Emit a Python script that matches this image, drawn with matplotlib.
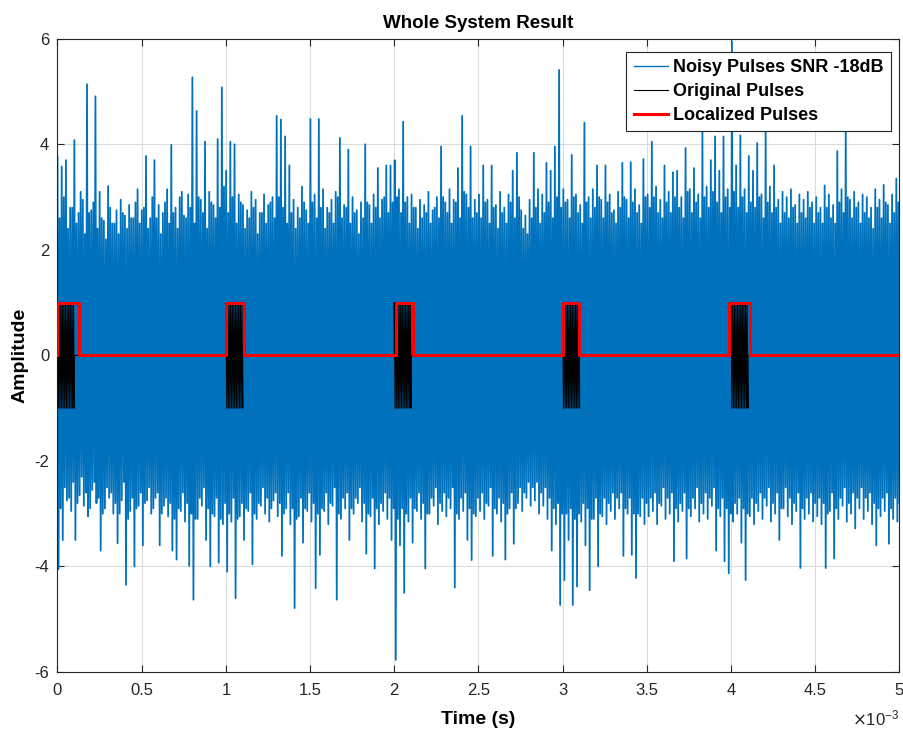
import numpy as np
import matplotlib
matplotlib.use("Agg")
import matplotlib.pyplot as plt
from matplotlib.lines import Line2D
from matplotlib.ticker import FuncFormatter

plt.rcParams["font.family"] = ["Liberation Sans", "DejaVu Sans"]
plt.rcParams["axes.unicode_minus"] = False

# Noisy received signal, 25 us bins over 0 .. 5 ms.
# noise_hi / noise_lo: largest excursions in each bin (the visible spikes)
noise_hi = [
    3.77, 3.58, 3.70, 2.80, 4.08, 2.70, 2.95, 5.14, 2.75, 4.91, 3.10, 2.55, 3.21, 2.50, 2.75, 2.95, 2.65, 2.85, 2.60, 3.15,
    2.75, 3.78, 2.60, 3.70, 2.85, 2.70, 3.15, 3.99, 2.80, 3.00, 2.65, 3.05, 5.27, 4.63, 2.95, 4.05, 3.10, 2.85, 4.10, 5.08,
    3.50, 4.05, 4.00, 3.05, 2.85, 2.75, 3.10, 2.95, 2.70, 3.05, 2.85, 3.00, 4.54, 4.47, 4.15, 3.60, 2.95, 2.80, 3.20, 2.75,
    4.48, 3.05, 4.48, 3.15, 2.80, 2.95, 3.10, 4.12, 2.85, 3.90, 3.00, 2.75, 2.90, 4.00, 2.85, 3.05, 3.55, 2.95, 3.60, 3.60,
    3.70, 3.15, 4.43, 3.00, 3.05, 2.80, 2.95, 2.85, 3.10, 2.75, 3.00, 3.96, 2.90, 3.15, 2.95, 3.55, 4.54, 3.05, 3.96, 2.95,
    3.05, 3.60, 2.95, 3.60, 2.85, 3.10, 2.80, 3.05, 3.50, 3.84, 2.75, 2.65, 2.95, 3.84, 3.15, 3.05, 3.65, 3.50, 3.96, 5.41,
    3.15, 2.95, 3.80, 3.05, 2.85, 4.41, 3.00, 3.15, 3.60, 2.95, 3.60, 3.05, 2.75, 3.10, 3.65, 2.95, 3.66, 3.15, 2.85, 3.72,
    3.05, 4.05, 3.20, 2.95, 3.60, 3.10, 3.47, 3.50, 3.00, 3.93, 3.15, 3.55, 3.05, 4.27, 3.20, 3.70, 4.15, 3.50, 4.15, 3.15,
    5.95, 3.60, 4.17, 3.15, 3.78, 3.50, 4.02, 3.05, 4.30, 3.20, 3.60, 2.95, 3.10, 3.00, 3.15, 2.85, 3.05, 2.95, 3.10, 2.90,
    3.00, 2.80, 3.22, 3.05, 2.85, 3.87, 3.15, 4.30, 2.95, 3.10, 2.90, 3.05, 3.00, 2.80, 3.15, 2.95, 3.23, 2.85, 3.05, 3.35,
]
noise_lo = [
    -4.05, -3.50, -2.75, -2.95, -3.50, -2.65, -2.85, -3.05, -2.55, -2.80, -3.70, -2.90, -2.70, -3.00, -3.56, -2.75, -4.35, -2.95, -4.00, -2.85,
    -3.60, -2.75, -3.00, -2.70, -3.60, -2.85, -3.05, -3.70, -3.87, -2.95, -3.15, -3.99, -4.63, -3.10, -2.85, -3.50, -4.00, -3.05, -3.93, -3.20,
    -4.10, -3.15, -4.60, -3.05, -3.50, -2.95, -3.96, -3.10, -2.85, -3.00, -3.15, -2.75, -3.05, -3.80, -2.90, -3.20, -4.79, -3.05, -3.55, -2.95,
    -3.15, -4.41, -3.78, -2.95, -3.20, -2.85, -4.63, -3.10, -2.90, -3.50, -3.00, -2.80, -3.15, -3.76, -3.05, -4.04, -3.20, -2.95, -3.10, -3.50,
    -5.77, -3.60, -4.50, -3.15, -3.55, -2.95, -3.10, -4.04, -3.00, -2.85, -3.20, -2.95, -3.05, -2.90, -4.40, -3.10, -2.95, -3.50, -3.88, -3.05,
    -2.95, -3.10, -2.85, -3.80, -3.00, -3.15, -3.87, -2.90, -3.57, -2.80, -2.95, -2.70, -2.85, -2.75, -3.00, -2.85, -3.10, -3.70, -3.20, -4.73,
    -4.26, -3.50, -4.73, -4.38, -3.15, -3.60, -4.45, -3.10, -4.00, -3.05, -3.20, -2.95, -3.10, -2.90, -3.80, -3.00, -3.78, -4.22, -3.05, -3.20,
    -3.05, -2.95, -3.20, -2.85, -3.10, -3.00, -3.90, -3.15, -2.95, -3.85, -3.05, -2.90, -3.15, -3.00, -3.10, -2.85, -3.70, -3.05, -3.90, -4.13,
    -3.15, -3.00, -3.55, -4.26, -3.05, -3.20, -2.95, -3.10, -2.85, -3.15, -3.00, -3.50, -2.90, -3.05, -3.20, -2.95, -4.03, -3.10, -3.00, -3.15,
    -3.05, -3.20, -4.03, -2.95, -3.85, -3.10, -2.85, -3.15, -3.00, -3.28, -2.90, -3.10, -2.95, -3.20, -3.60, -3.05, -2.95, -3.57, -3.10, -3.15,
]
# noise_hi2 / noise_lo2: second-largest excursions in each bin (the dense fringe)
noise_hi2 = [
    2.6, 3.0, 2.4, 2.8, 2.5, 3.1, 2.3, 2.7, 2.9, 2.4, 2.6, 2.2, 2.8, 2.5, 2.3, 2.7, 2.4, 2.6, 2.9, 2.5,
    2.8, 2.4, 3.0, 2.6, 2.3, 2.9, 2.5, 2.7, 2.4, 3.1, 2.6, 2.8, 2.5, 3.0, 2.7, 2.4, 2.9, 2.6, 2.8, 3.2,
    2.7, 3.0, 2.5, 2.9, 2.4, 2.6, 2.8, 2.3, 2.7, 2.5, 2.9, 2.6, 3.0, 2.8, 2.5, 2.7, 2.4, 2.6, 2.9, 2.5,
    2.9, 2.6, 2.8, 2.4, 2.7, 2.5, 3.0, 2.6, 2.8, 2.5, 2.7, 2.3, 2.6, 2.9, 2.5, 2.8, 2.6, 3.0, 2.7, 2.9,
    3.0, 2.7, 2.9, 2.5, 2.8, 2.4, 2.6, 2.7, 2.5, 2.8, 2.6, 3.0, 2.7, 2.5, 2.9, 2.6, 3.1, 2.8, 2.6, 2.7,
    2.6, 2.9, 2.5, 2.8, 2.4, 2.7, 2.5, 2.9, 2.6, 3.0, 2.4, 2.3, 2.6, 2.8, 2.5, 2.7, 2.9, 2.6, 3.0, 2.8,
    2.9, 2.6, 3.0, 2.7, 2.5, 2.9, 2.6, 2.8, 3.0, 2.6, 2.9, 2.7, 2.5, 2.8, 3.0, 2.6, 2.9, 2.7, 2.5, 3.0,
    2.8, 3.0, 2.7, 2.6, 2.9, 2.7, 3.0, 2.8, 2.6, 3.1, 2.7, 2.9, 2.6, 3.0, 2.8, 3.1, 2.9, 2.7, 3.0, 2.8,
    3.1, 2.8, 3.0, 2.7, 2.9, 2.8, 3.0, 2.6, 2.9, 2.7, 2.8, 2.5, 2.7, 2.6, 2.8, 2.5, 2.7, 2.6, 2.8, 2.5,
    2.7, 2.5, 2.8, 2.6, 2.5, 2.9, 2.7, 3.0, 2.6, 2.8, 2.5, 2.7, 2.6, 2.4, 2.8, 2.6, 2.9, 2.5, 2.7, 2.9,
]
noise_lo2 = [
    -2.9, -2.5, -2.7, -2.4, -2.8, -2.3, -2.6, -2.9, -2.4, -2.7, -3.0, -2.5, -2.6, -2.8, -3.0, -2.4, -3.1, -2.7, -2.9, -2.6,
    -2.8, -2.5, -2.9, -2.6, -3.0, -2.7, -2.8, -3.1, -2.9, -2.6, -2.8, -3.0, -3.1, -2.7, -2.5, -2.9, -3.0, -2.7, -3.1, -2.8,
    -3.0, -2.7, -3.1, -2.8, -2.9, -2.6, -3.0, -2.8, -2.5, -2.7, -2.9, -2.6, -2.8, -3.0, -2.6, -2.9, -3.1, -2.7, -2.9, -2.6,
    -2.8, -3.0, -2.9, -2.6, -2.8, -2.5, -3.0, -2.7, -2.6, -2.9, -2.7, -2.5, -2.8, -3.0, -2.7, -2.9, -2.8, -2.6, -2.7, -2.9,
    -3.1, -2.9, -3.0, -2.7, -2.9, -2.6, -2.8, -3.0, -2.7, -2.5, -2.8, -2.6, -2.7, -2.5, -3.0, -2.7, -2.6, -2.9, -3.0, -2.7,
    -2.6, -2.8, -2.5, -2.9, -2.7, -2.8, -3.0, -2.6, -2.9, -2.5, -2.6, -2.4, -2.5, -2.4, -2.6, -2.5, -2.7, -2.9, -2.8, -3.0,
    -3.0, -2.9, -3.1, -3.0, -2.8, -2.9, -3.1, -2.7, -3.0, -2.7, -2.8, -2.6, -2.7, -2.6, -2.9, -2.7, -3.0, -3.0, -2.7, -2.8,
    -2.7, -2.6, -2.8, -2.5, -2.7, -2.6, -2.9, -2.8, -2.6, -2.9, -2.7, -2.5, -2.8, -2.6, -2.7, -2.5, -2.9, -2.7, -2.9, -3.0,
    -2.8, -2.7, -2.9, -3.0, -2.7, -2.8, -2.6, -2.7, -2.5, -2.8, -2.6, -2.9, -2.5, -2.7, -2.8, -2.6, -2.9, -2.7, -2.6, -2.8,
    -2.7, -2.8, -3.0, -2.6, -2.9, -2.7, -2.5, -2.8, -2.6, -2.7, -2.5, -2.7, -2.6, -2.8, -2.9, -2.7, -2.6, -2.9, -2.7, -2.8,
]

# Transmitted pulses (ms): burst start times, burst length, amplitude
orig_start = [0.0, 1.0, 2.0, 3.0, 4.0]
orig_len = 0.1
orig_amp = 1.0

# Detector output (ms): windows flagged as containing a pulse
loc_on = [0.0, 1.0, 2.01, 3.0, 3.99]
loc_off = [0.125, 1.11, 2.11, 3.095, 4.11]
loc_level = 1.0

t_end = 5e-3  # seconds

x_ticks_ms = [0, 0.5, 1, 1.5, 2, 2.5, 3, 3.5, 4, 4.5, 5]
y_ticks = [-6, -4, -2, 0, 2, 4, 6]

# --- build traces -----------------------------------------------------------
n_bins = len(noise_hi)
noise_v = np.empty(4 * n_bins)
noise_v[0::4] = noise_hi
noise_v[1::4] = noise_lo
noise_v[2::4] = noise_hi2
noise_v[3::4] = noise_lo2
noise_t = np.linspace(0, t_end, noise_v.size)

orig_t, orig_v = [0.0], [0.0]
for s in orig_start:
    k = np.linspace(s, s + orig_len, 22) * 1e-3
    sign = np.where(np.arange(k.size) % 2 == 0, orig_amp, -orig_amp)
    orig_t += [s * 1e-3] + list(k) + [(s + orig_len) * 1e-3]
    orig_v += [0.0] + list(sign) + [0.0]
orig_t.append(t_end)
orig_v.append(0.0)

loc_t, loc_v = [], []
for a, b in zip(loc_on, loc_off):
    loc_t += [a * 1e-3, a * 1e-3, b * 1e-3, b * 1e-3]
    loc_v += [0.0, loc_level, loc_level, 0.0]
loc_t.append(t_end)
loc_v.append(0.0)

# --- figure -------------------------------------------------------------------
fig = plt.figure(figsize=(9.04, 7.32), dpi=100)
ax = fig.add_axes([0.0636, 0.082, 0.9314, 0.865])

blue = "#0072BD"
ax.plot(noise_t, noise_v, color=blue, lw=1.3, zorder=2)
ax.plot(orig_t, orig_v, color="black", lw=0.8, zorder=3)
ax.plot(loc_t, loc_v, color="#FF0000", lw=2.2, zorder=4)

ax.set_xlim(0, t_end)
ax.set_ylim(-6, 6)
ax.set_xticks([v * 1e-3 for v in x_ticks_ms])
ax.xaxis.set_major_formatter(FuncFormatter(lambda v, p: f"{v * 1e3:g}"))
ax.set_yticks(y_ticks)
ax.set_yticklabels([str(v) for v in y_ticks])

ax.grid(True, color="#DCDCDC", lw=0.8)
ax.set_axisbelow(True)
ax.tick_params(direction="in", top=True, right=True, length=5, width=0.8,
               labelsize=12, colors="#262626")
ax.tick_params(axis="x", pad=8)
ax.tick_params(axis="y", pad=6)
for sp in ax.spines.values():
    sp.set_color("#262626")
    sp.set_linewidth(0.8)

ax.set_title("Whole System Result", fontsize=13.5, fontweight="bold", pad=8)
ax.set_xlabel("Time (s)", fontsize=14, fontweight="bold", labelpad=9)
ax.set_ylabel("Amplitude", fontsize=14, fontweight="bold", labelpad=4)
ax.text(1.0, -0.074, r"$\times\mathregular{10^{-3}}$", transform=ax.transAxes,
        ha="right", va="center", fontsize=12, color="#262626")

handles = [
    Line2D([], [], color=blue, lw=1.0),
    Line2D([], [], color="black", lw=0.8),
    Line2D([], [], color="#FF0000", lw=2.2),
]
labels = ["Noisy Pulses SNR -18dB", "Original Pulses", "Localized Pulses"]
leg = ax.legend(handles, labels, loc="upper right", bbox_to_anchor=(0.99, 0.979),
                prop={"weight": "bold", "size": 13}, fancybox=False, framealpha=1,
                edgecolor="#262626", handlelength=1.9, handletextpad=0.3,
                borderpad=0.4, labelspacing=0.38, borderaxespad=0)
leg.get_frame().set_linewidth(0.8)
leg.set_zorder(10)

fig.savefig("out.png", dpi=100)
